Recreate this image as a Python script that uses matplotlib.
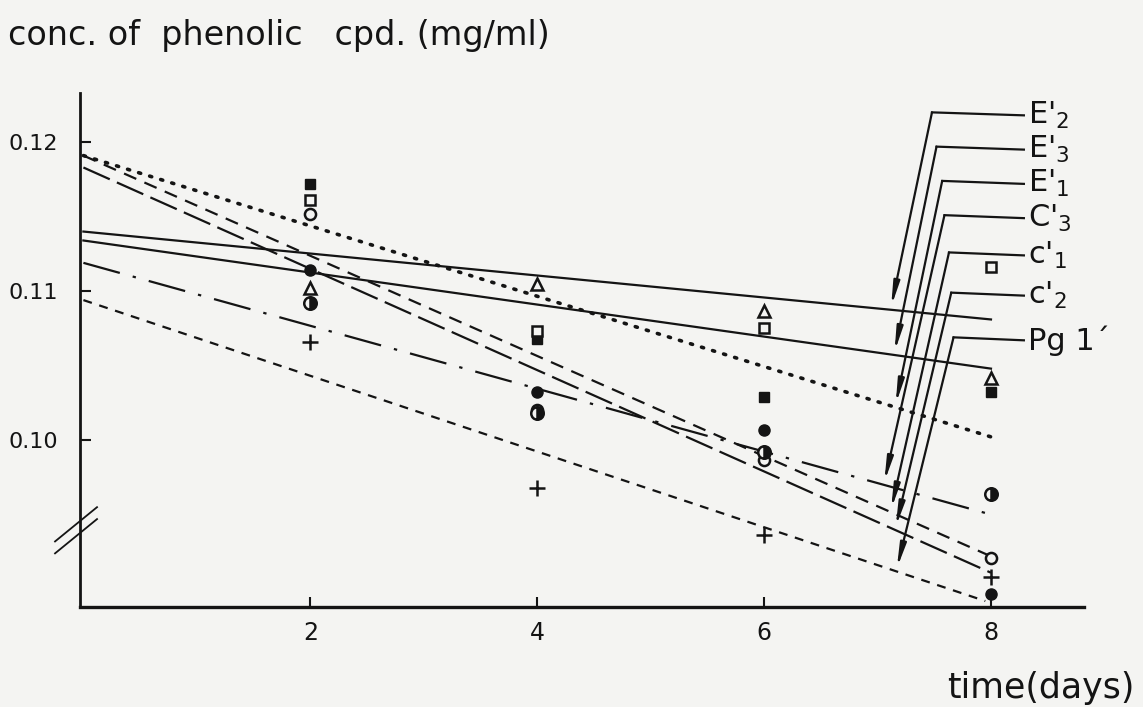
import numpy as np
import matplotlib.pyplot as plt

plt.rcParams['font.family'] = ['DejaVu Sans']
plt.rcParams['mathtext.default'] = 'regular'

# regression lines: value at day 0 and at the end day
line_start = [0.1140, 0.1134, 0.1191, 0.1119, 0.1191, 0.1183, 0.1094]
line_stop = [0.1081, 0.1048, 0.1001, 0.0949, 0.0922, 0.0911, 0.0892]
line_end_day = [8.0, 8.0, 8.05, 8.05, 8.0, 8.0, 7.95]
line_styles = ['-', '-', (0, (0.6, 2.6)), (0, (17, 6, 1.5, 6)), (0, (6, 4)), (0, (13, 3.5)), (0, (4, 3.5))]

# leader labels and where their arrows hit the lines
labels = [r"E$'_2$", r"E$'_3$", r"E$'_1$", r"C$'_3$", r"c$'_1$", r"c$'_2$", "Pg 1\u00b4"]
label_y = [0.1218, 0.1195, 0.1172, 0.1149, 0.1124, 0.1097, 0.1067]
bend_day = [7.48, 7.52, 7.57, 7.59, 7.63, 7.65, 7.67]
tip_day = [7.12, 7.15, 7.16, 7.06, 7.12, 7.16, 7.17]
tip_line = [0, 1, 2, 3, 4, 5, 6]

# measured points
days = [2, 4, 6, 8]
filled_sq = [0.1172, 0.1068, 0.1029, 0.1032]
open_sq = [0.1161, 0.1073, 0.1075, 0.1116]
open_circ = [0.1152, 0.1020, 0.0987, 0.0921]
filled_circ = [0.1114, 0.1032, 0.1007, 0.0897]
triangle = [0.1102, 0.1105, 0.1087, 0.1042]
half_circ = [0.1092, 0.1018, 0.0992, 0.0964]
plus = [0.1066, 0.0968, 0.0936, 0.0908]

bg = '#f4f4f2'
ink = '#141414'

fig = plt.figure(figsize=(11.43, 7.07), dpi=100, facecolor=bg)
ax = fig.add_axes([80/1143, 1-607/707, 1004/1143, 514/707], facecolor=bg)
ax.set_xlim(-0.03, 8.82)
ax.set_ylim(0.0888, 0.1233)

for s, e, d, ls in zip(line_start, line_stop, line_end_day, line_styles):
    lw = 2.6 if ls == line_styles[2] else 1.6
    ax.plot([0, d], [s, e], color=ink, lw=lw, ls=ls, dash_capstyle='round' if lw > 2 else 'butt')

ax.plot(days, filled_sq, 's', ms=6.5, color=ink, ls='none')
ax.plot(days, open_sq, 's', ms=7, mfc=bg, mec=ink, mew=1.8, ls='none')
ax.plot(days, open_circ, 'o', ms=8, mfc=bg, mec=ink, mew=1.8, ls='none')
ax.plot(days, filled_circ, 'o', ms=8, color=ink, ls='none')
ax.plot(days, triangle, '^', ms=8, mfc=bg, mec=ink, mew=1.8, ls='none')
ax.plot(days, half_circ, 'o', ms=9, fillstyle='right', mfc=ink, mfcalt=bg, mec=ink, mew=1.8, ls='none')
ax.plot(days, plus, '+', ms=11, mew=1.8, color=ink, ls='none')

# leader lines to the labels
for i in range(len(labels)):
    k = tip_line[i]
    v_tip = line_start[k] + (line_stop[k] - line_start[k]) * tip_day[i] / line_end_day[k]
    ax.plot([bend_day[i], 8.29], [label_y[i] + 0.0002, label_y[i]], color=ink, lw=1.6, clip_on=False)
    ax.annotate('', xy=(tip_day[i], v_tip + 0.0002), xytext=(bend_day[i], label_y[i] + 0.0002),
                arrowprops=dict(arrowstyle='-|>,head_length=1.4,head_width=0.18', color=ink, lw=1.6,
                                shrinkA=0, shrinkB=0), annotation_clip=False)
    ax.text(8.33, label_y[i], labels[i], fontsize=22, va='center', ha='left', color=ink)

# axis break
ax.plot([-0.25, 0.12], [0.0932, 0.0955], color=ink, lw=1.3, clip_on=False)
ax.plot([-0.25, 0.12], [0.0924, 0.0947], color=ink, lw=1.3, clip_on=False)

ax.spines['top'].set_visible(False)
ax.spines['right'].set_visible(False)
ax.spines['left'].set_linewidth(2)
ax.spines['bottom'].set_linewidth(2.4)
ax.spines['left'].set_color(ink)
ax.spines['bottom'].set_color(ink)

ax.set_xticks([2, 4, 6, 8])
ax.set_xticklabels(['2', '4', '6', '8'], fontsize=17)
ax.set_yticks([0.10, 0.11, 0.12])
ax.set_yticklabels(['0.10', '0.11', '0.12'], fontsize=16)
ax.tick_params(axis='x', direction='in', length=7, width=1.5, pad=10, colors=ink)
ax.tick_params(axis='y', direction='in', length=8, width=1.5, pad=16, colors=ink)

fig.text(8/1143, 1-35/707, 'conc. of  phenolic   cpd. (mg/ml)', fontsize=24, va='center', ha='left', color=ink)
fig.text(1135/1143, 1-688/707, 'time(days)', fontsize=25, va='center', ha='right', color=ink)

fig.savefig('out.png', dpi=100, facecolor=bg)
